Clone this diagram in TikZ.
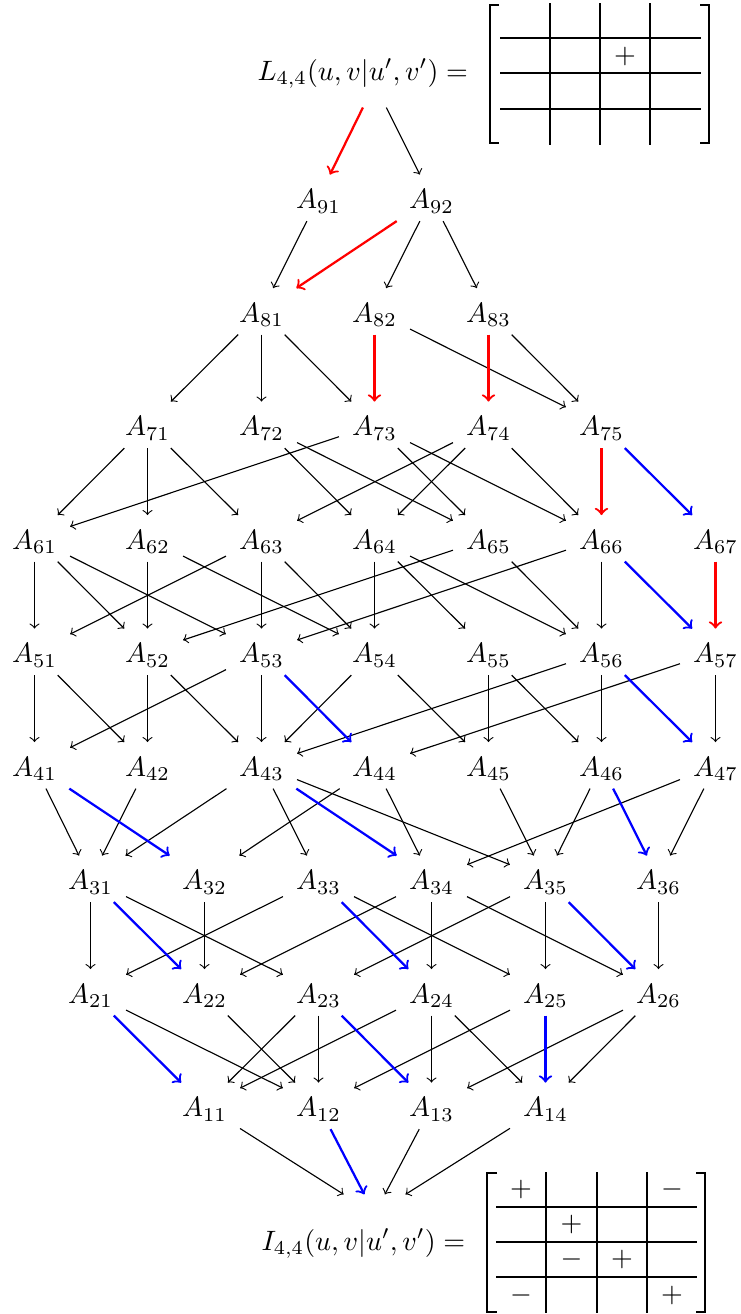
\documentclass[tikz,border=0pt]{standalone}
\begin{document}
\begin{tikzpicture}[x=0.357pt,y=-0.357pt,
  anode/.style={anchor=base, inner xsep=4.5pt, inner ysep=3pt, text height=9pt, text depth=1.2pt},
  hub/.style={inner sep=0pt, draw=none},
  arr/.style={->, line width=0.4pt},
  redarr/.style={->, red, line width=0.8pt},
  bluearr/.style={->, blue, line width=0.8pt},
  thickrule/.style={line width=1pt},
  midrule/.style={line width=0.6pt},
  brack/.style={line width=0.45pt},
  sign/.style={inner sep=0pt},
]
\useasboundingbox (0,0) rectangle (740,1314);
% nodes
\foreach \r/\xs/\yb in {
  9/{318.5,431.5}/208.8,
  8/{261.5,374.5,488.5}/322.3,
  7/{147.5,261.5,374.5,488.5,601.5}/435.8,
  6/{34.5,147.5,261.5,374.5,488.5,601.5,715.5}/549.3,
  5/{34.5,147.5,261.5,374.5,488.5,601.5,715.5}/662.8,
  4/{34.5,147.5,261.5,374.5,488.5,601.5,715.5}/776.3,
  3/{90.5,204.5,318.5,431.5,545.5,658.5}/889.8,
  2/{90.5,204.5,318.5,431.5,545.5,658.5}/1003.3,
  1/{204.5,318.5,431.5,545.5}/1116.8}
  \foreach \x [count=\k] in \xs
    \node[anode] (A\r\k) at (\x,\yb) {$A_{\r\k}$};
% top and bottom labels
\node[anchor=base west, inner sep=0pt] (Ltxt) at (257,80) {$L_{4,4}(u,v|u',v') =$};
\node[anchor=base west, inner sep=0pt] (Itxt) at (261,1250) {$I_{4,4}(u,v|u',v') =$};
\node[hub, minimum width=10.7pt, minimum height=16.4pt] (Lh) at (374.5,84) {};
\node[hub, minimum width=25pt, minimum height=13.6pt] (Ih) at (374.5,1214) {};
% black arrows
\foreach \s/\t in {91/81, 92/82, 92/83,
  81/71, 81/72, 81/73, 82/75, 83/75,
  71/61, 71/62, 71/63, 72/64, 72/65, 73/61, 73/65, 73/66, 74/63, 74/64, 74/66,
  61/51, 61/52, 61/53, 62/52, 62/54, 63/51, 63/53, 63/54, 64/54, 64/55, 64/56, 65/52, 65/56, 66/53, 66/56,
  51/41, 51/42, 52/42, 52/43, 53/41, 53/43, 54/43, 54/45, 55/45, 55/46, 56/43, 56/46, 57/44, 57/47,
  41/31, 42/31, 43/31, 43/33, 43/35, 44/32, 44/34, 45/35, 46/35, 47/34, 47/36,
  31/21, 31/23, 32/22, 33/21, 33/25, 34/22, 34/24, 34/26, 35/23, 35/25, 36/26,
  21/12, 22/12, 23/11, 23/12, 24/11, 24/13, 24/14, 25/12, 26/13, 26/14}
  \draw[arr] (A\s) -- (A\t);
\draw[arr] (Lh) -- (A92);
\draw[arr] (A11) -- (Ih);
\draw[arr] (A13) -- (Ih);
\draw[arr] (A14) -- (Ih);
% red arrows
\draw[redarr] (Lh) -- (A91);
\foreach \s/\t in {92/81, 82/73, 83/74, 75/66, 67/57}
  \draw[redarr] (A\s) -- (A\t);
% blue arrows
\foreach \s/\t in {75/67, 66/57, 53/44, 56/47, 41/32, 43/34, 46/36, 31/22, 33/24, 35/26, 21/11, 23/13, 25/14}
  \draw[bluearr] (A\s) -- (A\t);
\draw[bluearr] (A12) -- (Ih);
% top matrix
\draw[thickrule] (500,38) -- (701,38);
\draw[midrule] (500,73) -- (701,73);
\draw[thickrule] (500,109) -- (701,109);
\draw[midrule] (550,3) -- (550,145);
\draw[midrule] (600,3) -- (600,145);
\draw[thickrule] (650,3) -- (650,145);
\draw[brack] (499,5) -- (490,5) -- (490,143) -- (499,143);
\draw[brack] (700,5) -- (709,5) -- (709,143) -- (700,143);
\node[sign] (tp) at (625,56) {$+$};
% bottom matrix
\draw[midrule] (496,1207) -- (697,1207);
\draw[midrule] (496,1242) -- (697,1242);
\draw[midrule] (496,1277) -- (697,1277);
\draw[thickrule] (546,1172) -- (546,1313);
\draw[midrule] (597,1172) -- (597,1313);
\draw[midrule] (647,1172) -- (647,1313);
\draw[brack] (497,1173) -- (487,1173) -- (487,1312) -- (497,1312);
\draw[brack] (696,1173) -- (705,1173) -- (705,1312) -- (696,1312);
\node[sign] (b11) at (521,1189.5) {$+$};
\node[sign] (b14) at (672,1189.5) {$-$};
\node[sign] (b22) at (571.5,1224.5) {$+$};
\node[sign] (b32) at (571.5,1259.5) {$-$};
\node[sign] (b33) at (622,1259.5) {$+$};
\node[sign] (b41) at (521,1295) {$-$};
\node[sign] (b44) at (672,1295) {$+$};
\end{tikzpicture}
\end{document}
